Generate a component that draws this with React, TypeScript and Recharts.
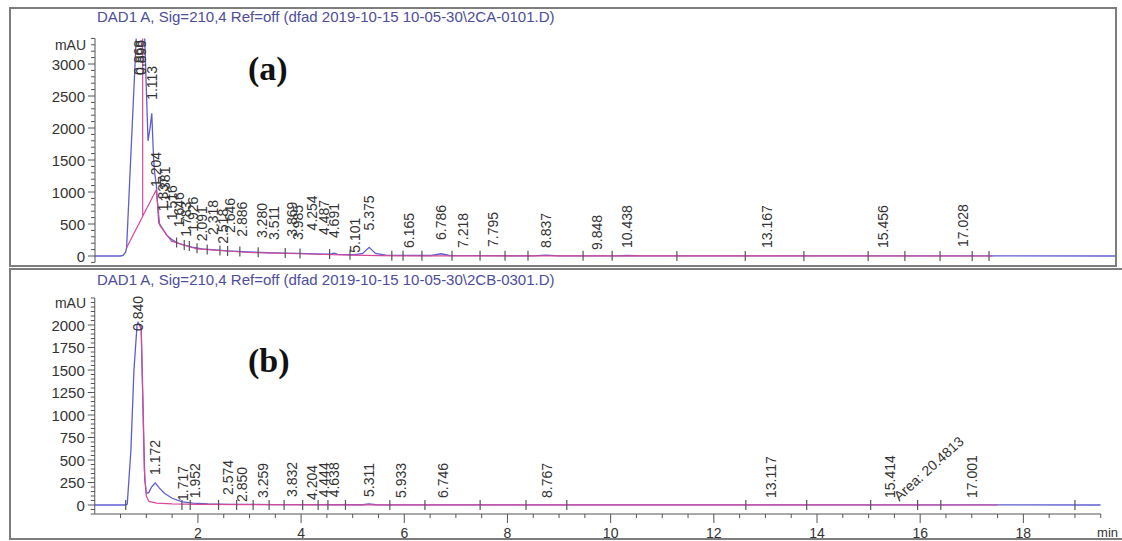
import React from "react";
import { ComposedChart, Line, Scatter, XAxis, YAxis } from "recharts";

const FONT = '"Liberation Sans", Arial, sans-serif';
const BLUE = "#5d5dd2";
const PINK = "#d8489a";
const INK = "#333";
const AXIS = "#555";
const TITLE_INK = "#4d4d9c";

// ---- panel (a): 2CA-0101 ----
const timeA = [0, 0.5, 0.55, 0.6, 0.62, 0.82, 0.868, 0.899, 0.97, 1.04, 1.08, 1.113, 1.15, 1.17, 1.204, 1.25, 1.3, 1.4, 1.5, 1.6, 1.75, 1.9, 2.1, 2.6, 3.0, 3.5, 4.0, 4.5, 4.62, 4.69, 4.76, 5.0, 5.1, 5.25, 5.375, 5.5, 5.7, 6.0, 6.6, 6.786, 6.95, 7.5, 8.6, 8.837, 9.1, 10.2, 10.438, 10.7, 13.167, 17.028, 20];
const signalA = [0, 0, 10, 60, 130, 3600, 3700, 3650, 3500, 1800, 2000, 2230, 1500, 1300, 1100, 520, 460, 330, 260, 210, 170, 140, 110, 80, 65, 50, 40, 30, 28, 45, 26, 20, 22, 40, 135, 40, 15, 10, 8, 35, 8, 5, 3, 15, 3, 2, 8, 2, 3, 3, 0];
const baseTimeA = [0.62, 0.935, 0.935, 0.935, 1.2, 1.27, 1.5, 2.0, 3.0, 4.0, 5.0, 5.6, 6.0, 8.0, 17.6];
const baseA = [130, 620, 3600, 620, 1030, 480, 230, 110, 55, 35, 15, 5, 3, 2, 0];
const peakRtA = [0.868, 0.899, 1.113, 1.204, 1.337, 1.381, 1.516, 1.646, 1.783, 1.926, 2.091, 2.318, 2.518, 2.646, 2.886, 3.28, 3.511, 3.869, 3.985, 4.254, 4.487, 4.691, 5.101, 5.375, 6.165, 6.786, 7.218, 7.795, 8.837, 9.848, 10.438, 13.167, 15.456, 17.028];
const peakLabelA = ["0.868", "0.899", "1.113", "1.204", "1.337", "1.381", "1.516", "1.646", "1.783", "1.926", "2.091", "2.318", "2.518", "2.646", "2.886", "3.280", "3.511", "3.869", "3.985", "4.254", "4.487", "4.691", "5.101", "5.375", "6.165", "6.786", "7.218", "7.795", "8.837", "9.848", "10.438", "13.167", "15.456", "17.028"];
const peakLevelA = [2830, 2830, 2440, 1080, 700, 850, 560, 450, 300, 380, 230, 330, 190, 360, 300, 280, 250, 300, 250, 400, 330, 280, 50, 400, 125, 250, 125, 140, 125, 95, 125, 125, 125, 140];
const eventA = [1.6, 1.75, 1.85, 2.0, 2.2, 2.45, 2.6, 2.84, 3.2, 3.73, 4.02, 4.6, 5.0, 5.82, 6.04, 6.41, 7.0, 7.55, 8.04, 8.49, 9.57, 10.14, 11.41, 12.75, 13.9, 15.16, 15.88, 16.57, 17.2, 17.53];
const eventLevelA = [210, 170, 155, 120, 100, 85, 80, 70, 60, 45, 40, 30, 20, 5, 5, 3, 3, 3, 2, 2, 2, 2, 1, 1, 1, 0, 0, 0, 0, 0];
const yMajorA = [0, 500, 1000, 1500, 2000, 2500, 3000];

// ---- panel (b): 2CB-0301 ----
const timeB = [0, 0.6, 0.63, 0.7, 0.76, 0.82, 0.84, 0.86, 0.9, 0.97, 1.0, 1.05, 1.1, 1.172, 1.25, 1.35, 1.5, 1.7, 1.9, 2.2, 2.6, 3.5, 5.2, 5.311, 5.45, 19.5];
const signalB = [0, 0, 10, 600, 1500, 2000, 2030, 2010, 1980, 280, 130, 140, 200, 245, 190, 130, 75, 35, 20, 12, 8, 5, 3, 12, 3, 0];
const baseTimeB = [0.86, 0.9, 0.96, 1.0, 1.05, 1.2, 1.5, 2.0, 3.0, 5.0, 17.5];
const baseB = [2000, 1960, 400, 100, 40, 20, 12, 8, 5, 2, 0];
const peakRtB = [0.84, 1.172, 1.717, 1.952, 2.574, 2.85, 3.259, 3.832, 4.204, 4.444, 4.638, 5.311, 5.933, 6.746, 8.767, 13.117, 15.414, 17.001];
const peakLabelB = ["0.840", "1.172", "1.717", "1.952", "2.574", "2.850", "3.259", "3.832", "4.204", "4.444", "4.638", "5.311", "5.933", "6.746", "8.767", "13.117", "15.414", "17.001"];
const peakLevelB = [1933, 333, 45, 75, 111, 33, 78, 89, 55, 85, 85, 89, 78, 78, 78, 78, 78, 78];
const areaNoteB = { rt: 15.414, text: "Area: 20.4813" };
const eventB = [0.6, 1.69, 1.85, 2.4, 2.75, 3.07, 3.38, 3.67, 4.03, 4.33, 4.52, 4.86, 5.72, 6.4, 7.47, 8.36, 9.15, 12.62, 13.8, 15.04, 15.95, 16.4, 19.0];
const yMajorB = [0, 250, 500, 750, 1000, 1250, 1500, 1750, 2000];
const xMajorB = [2, 4, 6, 8, 10, 12, 14, 16, 18];

const range = (from: number, to: number, step: number) => {
  const out: number[] = [];
  for (let v = from; v <= to + 1e-9; v += step) out.push(Math.round(v * 100) / 100);
  return out;
};

const zip = (t: number[], v: number[]) => t.map((x, i) => ({ t: x, v: v[i] }));

const makeYTick = (majors: number[]) => (props: any) => {
  const { x, y, payload } = props;
  const major = majors.includes(payload.value);
  return (
    <g>
      <line x1={x - (major ? 7 : 4)} x2={x} y1={y} y2={y} stroke={AXIS} strokeWidth={1} />
      {major && (
        <text x={x - 10} y={y} textAnchor="end" dominantBaseline="central" fontSize={15} fill={INK} fontFamily={FONT}>
          {payload.value}
        </text>
      )}
    </g>
  );
};

const XTickB = (props: any) => {
  const { x, y, payload } = props;
  const major = xMajorB.includes(payload.value);
  return (
    <g>
      <line x1={x} x2={x} y1={y} y2={y + (major ? 9 : 4)} stroke={AXIS} strokeWidth={1} />
      {major && (
        <text x={x} y={y + 19} textAnchor="middle" dominantBaseline="central" fontSize={14} fill={INK} fontFamily={FONT}>
          {payload.value}
        </text>
      )}
    </g>
  );
};

const PeakLabel = (props: any) => {
  const { cx, cy, payload } = props;
  if (cx == null || cy == null) return <g />;
  return (
    <g>
      <text transform={`translate(${cx},${cy}) rotate(-90)`} textAnchor="start" dominantBaseline="central" fontSize={14} fill={INK} fontFamily={FONT}>
        {payload.label}
      </text>
      {payload.note && (
        <text transform={`translate(${cx + 6},${cy}) rotate(-42)`} textAnchor="start" dominantBaseline="central" fontSize={14} fill={INK} fontFamily={FONT}>
          {payload.note}
        </text>
      )}
    </g>
  );
};

const EventMark = (props: any) => {
  const { cx, cy } = props;
  if (cx == null || cy == null) return <g />;
  return <line x1={cx} x2={cx} y1={cy - 5} y2={cy + 5} stroke={AXIS} strokeWidth={1.2} />;
};

const YTickA = makeYTick(yMajorA);
const YTickB = makeYTick(yMajorB);

export default function App() {
  const blueA = zip(timeA, signalA);
  const pinkA = zip(baseTimeA, baseA);
  const labelsA = peakRtA.map((t, i) => ({ t, v: peakLevelA[i], label: peakLabelA[i] }));
  const eventsA = zip(eventA, eventLevelA);

  const blueB = zip(timeB, signalB);
  const pinkB = zip(baseTimeB, baseB);
  const labelsB = peakRtB.map((t, i) => ({
    t,
    v: peakLevelB[i],
    label: peakLabelB[i],
    note: t === areaNoteB.rt ? areaNoteB.text : undefined,
  }));
  const eventsB = eventB.map((t) => ({ t, v: 0 }));

  return (
    <div style={{ position: "absolute", left: 0, top: 0, width: 1122, height: 541, background: "#fff", overflow: "hidden" }}>
      {/* panel (a) */}
      <div style={{ position: "absolute", left: 0, top: 0 }}>
        <ComposedChart width={1122} height={270} margin={{ top: 38.4, right: 7, bottom: 7.6, left: 0 }}>
          <XAxis dataKey="t" type="number" domain={[0, 20]} allowDataOverflow hide height={0} />
          <YAxis
            type="number"
            domain={[-100, 3400]}
            allowDataOverflow
            width={95}
            ticks={range(-100, 3400, 100)}
            interval={0}
            tickSize={0}
            tickMargin={0}
            tickLine={false}
            axisLine={{ stroke: AXIS, strokeWidth: 1 }}
            tick={YTickA}
          />
          <YAxis yAxisId="lab" type="number" domain={[-100, 3400]} hide />
          <Line data={blueA} dataKey="v" type="linear" dot={false} stroke={BLUE} strokeWidth={1.3} isAnimationActive={false} />
          <Line data={pinkA} dataKey="v" type="linear" dot={false} stroke={PINK} strokeWidth={1.2} isAnimationActive={false} />
          <Scatter yAxisId="lab" data={eventsA} dataKey="v" shape={EventMark} isAnimationActive={false} />
          <Scatter yAxisId="lab" data={labelsA} dataKey="v" shape={PeakLabel} isAnimationActive={false} />
        </ComposedChart>
      </div>

      {/* panel (b) */}
      <div style={{ position: "absolute", left: 0, top: 270 }}>
        <ComposedChart width={1122} height={271} margin={{ top: 28, right: 21.25, bottom: 0, left: 0 }}>
          <XAxis
            dataKey="t"
            type="number"
            domain={[0, 19.5]}
            allowDataOverflow
            height={27}
            ticks={range(0.5, 19.5, 0.5)}
            interval={0}
            tickSize={0}
            tickMargin={0}
            tickLine={false}
            axisLine={{ stroke: AXIS, strokeWidth: 1 }}
            tick={XTickB}
          />
          <YAxis
            type="number"
            domain={[-100, 2300]}
            allowDataOverflow
            width={94.75}
            ticks={range(-100, 2300, 50)}
            interval={0}
            tickSize={0}
            tickMargin={0}
            tickLine={false}
            axisLine={{ stroke: AXIS, strokeWidth: 1 }}
            tick={YTickB}
          />
          <YAxis yAxisId="lab" type="number" domain={[-100, 2300]} hide />
          <Line data={blueB} dataKey="v" type="linear" dot={false} stroke={BLUE} strokeWidth={1.3} isAnimationActive={false} />
          <Line data={pinkB} dataKey="v" type="linear" dot={false} stroke={PINK} strokeWidth={1.2} isAnimationActive={false} />
          <Scatter yAxisId="lab" data={eventsB} dataKey="v" shape={EventMark} isAnimationActive={false} />
          <Scatter yAxisId="lab" data={labelsB} dataKey="v" shape={PeakLabel} isAnimationActive={false} />
        </ComposedChart>
      </div>

      {/* frames, titles, panel letters */}
      <svg width={1122} height={541} style={{ position: "absolute", left: 0, top: 0, pointerEvents: "none" }}>
        <rect x={10} y={8} width={1106} height={258} fill="none" stroke="#7d7d7d" strokeWidth={2} />
        <path d="M10 540 L10 269 L1122 269 M10 539 L1122 539" fill="none" stroke="#7d7d7d" strokeWidth={2} />
        <text x={97} y={16} dominantBaseline="central" fontSize={15} fill={TITLE_INK} fontFamily={FONT}>
          DAD1 A, Sig=210,4 Ref=off (dfad 2019-10-15 10-05-30\2CA-0101.D)
        </text>
        <text x={97} y={279} dominantBaseline="central" fontSize={15} fill={TITLE_INK} fontFamily={FONT}>
          DAD1 A, Sig=210,4 Ref=off (dfad 2019-10-15 10-05-30\2CB-0301.D)
        </text>
        <text x={86} y={45} textAnchor="end" dominantBaseline="central" fontSize={14} fill={INK} fontFamily={FONT}>mAU</text>
        <text x={86} y={303} textAnchor="end" dominantBaseline="central" fontSize={14} fill={INK} fontFamily={FONT}>mAU</text>
        <text x={1118} y={532} textAnchor="end" dominantBaseline="central" fontSize={13} fill={INK} fontFamily={FONT}>min</text>
        <text x={248} y={80} fontSize={34} fontWeight="bold" fill="#111" fontFamily='"Liberation Serif", "Times New Roman", serif'>(a)</text>
        <text x={248} y={372} fontSize={34} fontWeight="bold" fill="#111" fontFamily='"Liberation Serif", "Times New Roman", serif'>(b)</text>
      </svg>
    </div>
  );
}
